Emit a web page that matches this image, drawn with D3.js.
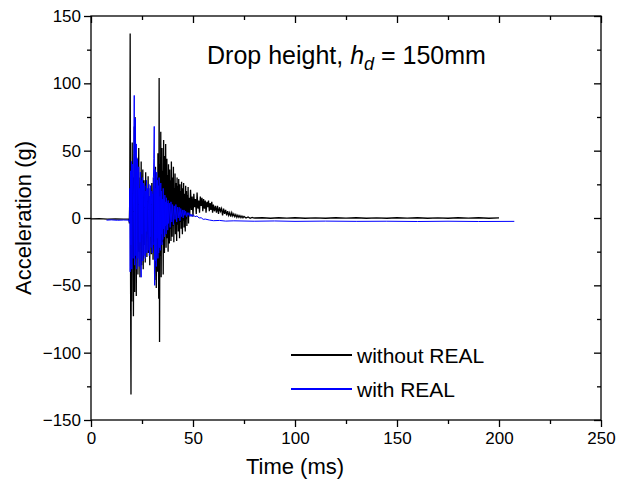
<!DOCTYPE html>
<html>
<head>
<meta charset="utf-8">
<script src="https://cdn.jsdelivr.net/npm/d3@7"></script>
<style>
  body { margin: 0; background: #fff; }
  text { font-family: Arial, "Liberation Sans", Helvetica, sans-serif; }
</style>
</head>
<body>
<svg id="chart" width="630" height="490"></svg>
<script>
// tick labels
var xTicks = [0, 50, 100, 150, 200, 250];
var yTicks = [-150, -100, -50, 0, 50, 100, 150];
var xMinor = [25, 75, 125, 175, 225];
var yMinor = [-125, -75, -25, 25, 75, 125];

// without REAL, [time ms, acceleration g]
var woPre = [[0, -0.7], [4, -0.5], [8, -0.8], [12, -0.6], [16, -0.8], [18.4, -0.6]];
var woBurst = [
  [18.6, -1], [18.8, -4], [19.0, 15], [19.2, 137], [19.4, -48], [19.6, -131], [19.8, 40], [20.0, -62],
  [20.2, 56], [20.4, -18], [20.6, 30], [20.8, -73], [21.0, 12], [21.2, 68], [21.4, -55], [21.6, 75],
  [21.8, -30], [22.0, 22], [22.2, -58], [22.4, 45], [22.6, -10], [22.8, 38], [23.0, -42], [23.2, 15],
  [23.4, 52], [23.6, -25], [23.8, 8], [24.0, -44], [24.2, 30], [24.4, -12], [24.6, 42], [24.8, -35],
  [25.0, 18], [25.2, -8], [25.4, 36], [25.6, -38], [25.8, 10], [26.0, 28], [26.2, -20], [26.4, 6],
  [26.6, -33], [26.8, 34], [27.0, -5], [27.2, 14], [27.4, -29], [27.6, 20], [27.8, -12], [28.0, 31],
  [28.2, -26], [28.4, 4], [28.6, 16], [28.8, -35], [29.0, 22], [29.2, -9], [29.4, 12], [29.6, -27],
  [29.8, 26], [30.0, -14], [30.2, 8], [30.4, -31], [30.6, 30], [30.8, -18], [31.0, 24], [31.2, -46],
  [31.4, 10], [31.6, 38], [31.8, -22], [32.0, -52], [32.2, 30], [32.4, 8], [32.6, -40], [32.8, 48],
  [33.0, -15], [33.2, -60], [33.4, 104], [33.6, -92], [33.8, 40], [34.0, -28], [34.2, 64], [34.4, -44],
  [34.6, 20], [34.8, 52], [35.0, -18], [35.2, 35], [35.4, -42], [35.6, 58], [35.8, 5], [36.0, -26],
  [36.2, 46], [36.4, -12], [36.6, 55], [36.8, -22], [37.0, 18], [37.2, 44], [37.4, -15], [37.6, 32],
  [37.8, -25], [38.0, 40], [38.2, 2], [38.4, -19], [38.6, 36], [38.8, -8], [39.0, 28], [39.2, -17],
  [39.4, 42], [39.6, 4], [39.8, -14], [40.0, 30], [40.2, -6], [40.4, 38], [40.6, -18], [40.8, 22],
  [41.0, -4], [41.2, 33], [41.4, -12], [41.6, 26], [41.8, 2], [42.0, -17], [42.2, 30], [42.4, -5],
  [42.6, 24], [42.8, -10], [43.0, 29], [43.2, 4], [43.4, -15], [43.6, 25], [43.8, -3], [44.0, 20],
  [44.2, -8], [44.4, 27], [44.6, 3], [44.8, -12], [45.0, 22], [45.2, -2], [45.4, 26], [45.6, -7],
  [45.8, 18], [46.0, 5], [46.2, -10], [46.4, 24], [46.6, -1], [46.8, 20], [47.0, -6], [47.2, 17],
  [47.4, 4], [47.6, 23], [47.8, -4], [48.0, 15]
];
var woTail = [
  [48.4, 2], [48.8, 21], [49.2, 6], [49.6, 16], [50.0, 1], [50.4, 18], [50.8, 8], [51.2, 14],
  [51.6, 3], [52.0, 19], [52.4, 7], [52.8, 13], [53.2, 4], [53.6, 16], [54.0, 9], [54.4, 15],
  [54.8, 5], [55.2, 14], [55.6, 7], [56.0, 13], [56.4, 4], [56.8, 12], [57.2, 8], [57.6, 13],
  [58.0, 5], [58.4, 11], [58.8, 6], [59.2, 12], [59.6, 4], [60.0, 10], [60.5, 5], [61.0, 9],
  [61.5, 4], [62.0, 9], [62.5, 3], [63.0, 8], [63.5, 5], [64.0, 7], [64.5, 2], [65.0, 7],
  [65.5, 3], [66, 6], [66.5, 2], [67, 5], [67.5, 2], [68, 4], [68.5, 1], [69, 4], [69.5, 1.5],
  [70, 3], [70.5, 1], [71, 2.5], [71.5, 0.5], [72, 2], [72.5, 0.5], [73, 1.8], [73.5, 0.2],
  [74, 1.5], [74.5, 0.2], [75, 1.2], [76, 0], [77, 0.8], [78, -0.2], [79, 0.5], [80, 0],
  [84, 0.2], [88, -0.2], [92, 0.2], [96, -0.1], [100, 0.2], [105, -0.2], [110, 0.1], [115, -0.2],
  [120, 0.2], [125, -0.1], [130, 0.2], [135, -0.2], [140, 0.1], [145, -0.2], [150, 0.2],
  [155, -0.1], [160, 0.2], [165, -0.2], [170, 0.1], [175, -0.2], [180, 0.2], [185, -0.1],
  [190, 0.2], [195, -0.2], [200, 0.1]
];

// with REAL
var wPre = [[7.6, -1.6], [10, -1.4], [13, -1.7], [16, -1.5], [18.4, -1.6]];
var wBurst = [
  [18.6, -1.5], [18.8, -3], [19.0, 22], [19.2, -40], [19.4, 35], [19.6, -20], [19.8, 42], [20.0, -38],
  [20.2, 18], [20.4, 40], [20.6, -30], [20.8, 5], [21.0, 48], [21.2, 91], [21.4, -35], [21.6, 40],
  [21.8, 74], [22.0, -28], [22.2, 55], [22.4, -38], [22.6, 20], [22.8, 44], [23.0, -30], [23.2, 10],
  [23.4, 38], [23.6, -36], [23.8, 22], [24.0, -18], [24.2, 34], [24.4, -30], [24.6, -44], [24.8, 28],
  [25.0, -12], [25.2, 30], [25.4, -32], [25.6, 15], [25.8, 26], [26.0, -28], [26.2, 8], [26.4, 24],
  [26.6, -30], [26.8, 20], [27.0, -10], [27.2, 28], [27.4, -26], [27.6, 12], [27.8, 22], [28.0, -24],
  [28.2, 6], [28.4, 25], [28.6, -28], [28.8, 16], [29.0, -14], [29.2, 24], [29.4, -22], [29.6, 10],
  [29.8, 20], [30.0, -26], [30.2, 18], [30.4, -20], [30.6, 30], [30.8, 44], [31.0, 68], [31.2, -50],
  [31.4, 36], [31.6, -32], [31.8, 22], [32.0, -36], [32.2, 34], [32.4, -15], [32.6, 28], [32.8, -30],
  [33.0, 24], [33.2, -26], [33.4, 30], [33.6, -22], [33.8, 16], [34.0, -24], [34.2, 26], [34.4, -12],
  [34.6, 20], [34.8, -20], [35.0, 14], [35.2, -16], [35.4, 22], [35.6, -8], [35.8, 14], [36.0, -14],
  [36.2, 17], [36.4, -6], [36.6, 12], [36.8, -12], [37.0, 15], [37.2, -5], [37.4, 11], [37.6, -9],
  [37.8, 13], [38.0, -4]
];
var wTail = [
  [38.4, 11], [38.8, -7], [39.2, 12], [39.6, -3], [40.0, 10], [40.4, -5], [40.8, 9], [41.2, -1],
  [41.6, 10], [42.0, -3], [42.4, 8], [42.8, 0], [43.2, 8], [43.6, -2], [44.0, 7], [44.4, 1],
  [44.8, 6], [45.2, 0], [45.6, 6], [46.0, 2], [46.4, 5], [46.8, 1], [47.2, 4], [47.6, 2], [48.0, 4],
  [48.5, 1], [49, 3], [49.5, 1], [50, 2.5], [51, 1], [52, 1.5], [53, 0], [54, 0.2], [55, -1],
  [56, -0.8], [58, -1.5], [60, -2], [63, -1.8], [66, -2.3], [70, -2.1], [80, -2.4], [90, -2.2],
  [100, -2.5], [115, -2.3], [130, -2.5], [145, -2.4], [160, -2.6], [175, -2.4], [190, -2.6], [207.5, -2.5]
];

var withoutReal = woPre.concat(woBurst, woTail);
var withReal = wPre.concat(wBurst, wTail);

var svg = d3.select("#chart");
var plotLeft = 91, plotRight = 601, plotTop = 16, plotBottom = 420;

var x = d3.scaleLinear().domain([0, 250]).range([plotLeft, plotRight]);
var y = d3.scaleLinear().domain([-150, 150]).range([plotBottom, plotTop]);

var line = d3.line()
  .x(function(d) { return x(d[0]); })
  .y(function(d) { return y(d[1]); });

svg.append("path")
  .datum(withoutReal)
  .attr("fill", "none")
  .attr("stroke", "#000")
  .attr("stroke-width", 1.3)
  .attr("d", line);

svg.append("path")
  .datum(withReal)
  .attr("fill", "none")
  .attr("stroke", "#0000ff")
  .attr("stroke-width", 1)
  .attr("d", line);

// frame
svg.append("rect")
  .attr("x", plotLeft).attr("y", plotTop)
  .attr("width", plotRight - plotLeft).attr("height", plotBottom - plotTop)
  .attr("fill", "none").attr("stroke", "#000").attr("stroke-width", 1.3);

function styleAxis(g) {
  g.select(".domain").remove();
  g.selectAll(".tick line").attr("stroke", "#000").attr("stroke-width", 1.3);
  g.selectAll(".tick text").attr("font-size", "17px").attr("fill", "#000")
    .style("font-family", "Arial, 'Liberation Sans', sans-serif");
}

// bottom
svg.append("g").attr("transform", "translate(0," + plotBottom + ")")
  .call(d3.axisBottom(x).tickValues(xTicks).tickSize(7).tickPadding(5).tickFormat(d3.format("d")))
  .call(styleAxis);
svg.append("g").attr("transform", "translate(0," + plotBottom + ")")
  .call(d3.axisBottom(x).tickValues(xMinor).tickSize(4).tickFormat(""))
  .call(styleAxis);
// top (inward)
svg.append("g").attr("transform", "translate(0," + plotTop + ")")
  .call(d3.axisTop(x).tickValues(xTicks).tickSize(-7).tickFormat(""))
  .call(styleAxis);
svg.append("g").attr("transform", "translate(0," + plotTop + ")")
  .call(d3.axisTop(x).tickValues(xMinor).tickSize(-4).tickFormat(""))
  .call(styleAxis);
// left
svg.append("g").attr("transform", "translate(" + plotLeft + ",0)")
  .call(d3.axisLeft(y).tickValues(yTicks).tickSize(7).tickPadding(3)
    .tickFormat(function(d) { return d < 0 ? "\u2212" + Math.abs(d) : d; }))
  .call(styleAxis);
svg.append("g").attr("transform", "translate(" + plotLeft + ",0)")
  .call(d3.axisLeft(y).tickValues(yMinor).tickSize(4).tickFormat(""))
  .call(styleAxis);
// right (inward)
svg.append("g").attr("transform", "translate(" + plotRight + ",0)")
  .call(d3.axisRight(y).tickValues(yTicks).tickSize(-7).tickFormat(""))
  .call(styleAxis);
svg.append("g").attr("transform", "translate(" + plotRight + ",0)")
  .call(d3.axisRight(y).tickValues(yMinor).tickSize(-4).tickFormat(""))
  .call(styleAxis);

// axis titles
svg.append("text")
  .attr("x", 295).attr("y", 474)
  .attr("text-anchor", "middle").attr("font-size", "22px")
  .text("Time (ms)");
svg.append("text")
  .attr("transform", "translate(31," + ((plotTop + plotBottom) / 2) + ") rotate(-90)")
  .attr("text-anchor", "middle").attr("font-size", "22px")
  .text("Acceleration (g)");

// title
var title = svg.append("text")
  .attr("x", 207).attr("y", 64)
  .attr("font-size", "25px");
title.append("tspan").text("Drop height, ");
title.append("tspan").attr("font-style", "italic").text("h");
title.append("tspan").attr("font-style", "italic").attr("font-size", "18px").attr("dy", 6).text("d");
title.append("tspan").attr("dy", -6).text(" = 150mm");

// legend
var legend = [
  { label: "without REAL", color: "#000", y: 355 },
  { label: "with REAL", color: "#0000ff", y: 389 }
];
legend.forEach(function(l) {
  svg.append("line")
    .attr("x1", 291).attr("x2", 352).attr("y1", l.y).attr("y2", l.y)
    .attr("stroke", l.color).attr("stroke-width", 2);
  svg.append("text")
    .attr("x", 357).attr("y", l.y + 8)
    .attr("font-size", "21px")
    .text(l.label);
});
</script>
</body>
</html>
